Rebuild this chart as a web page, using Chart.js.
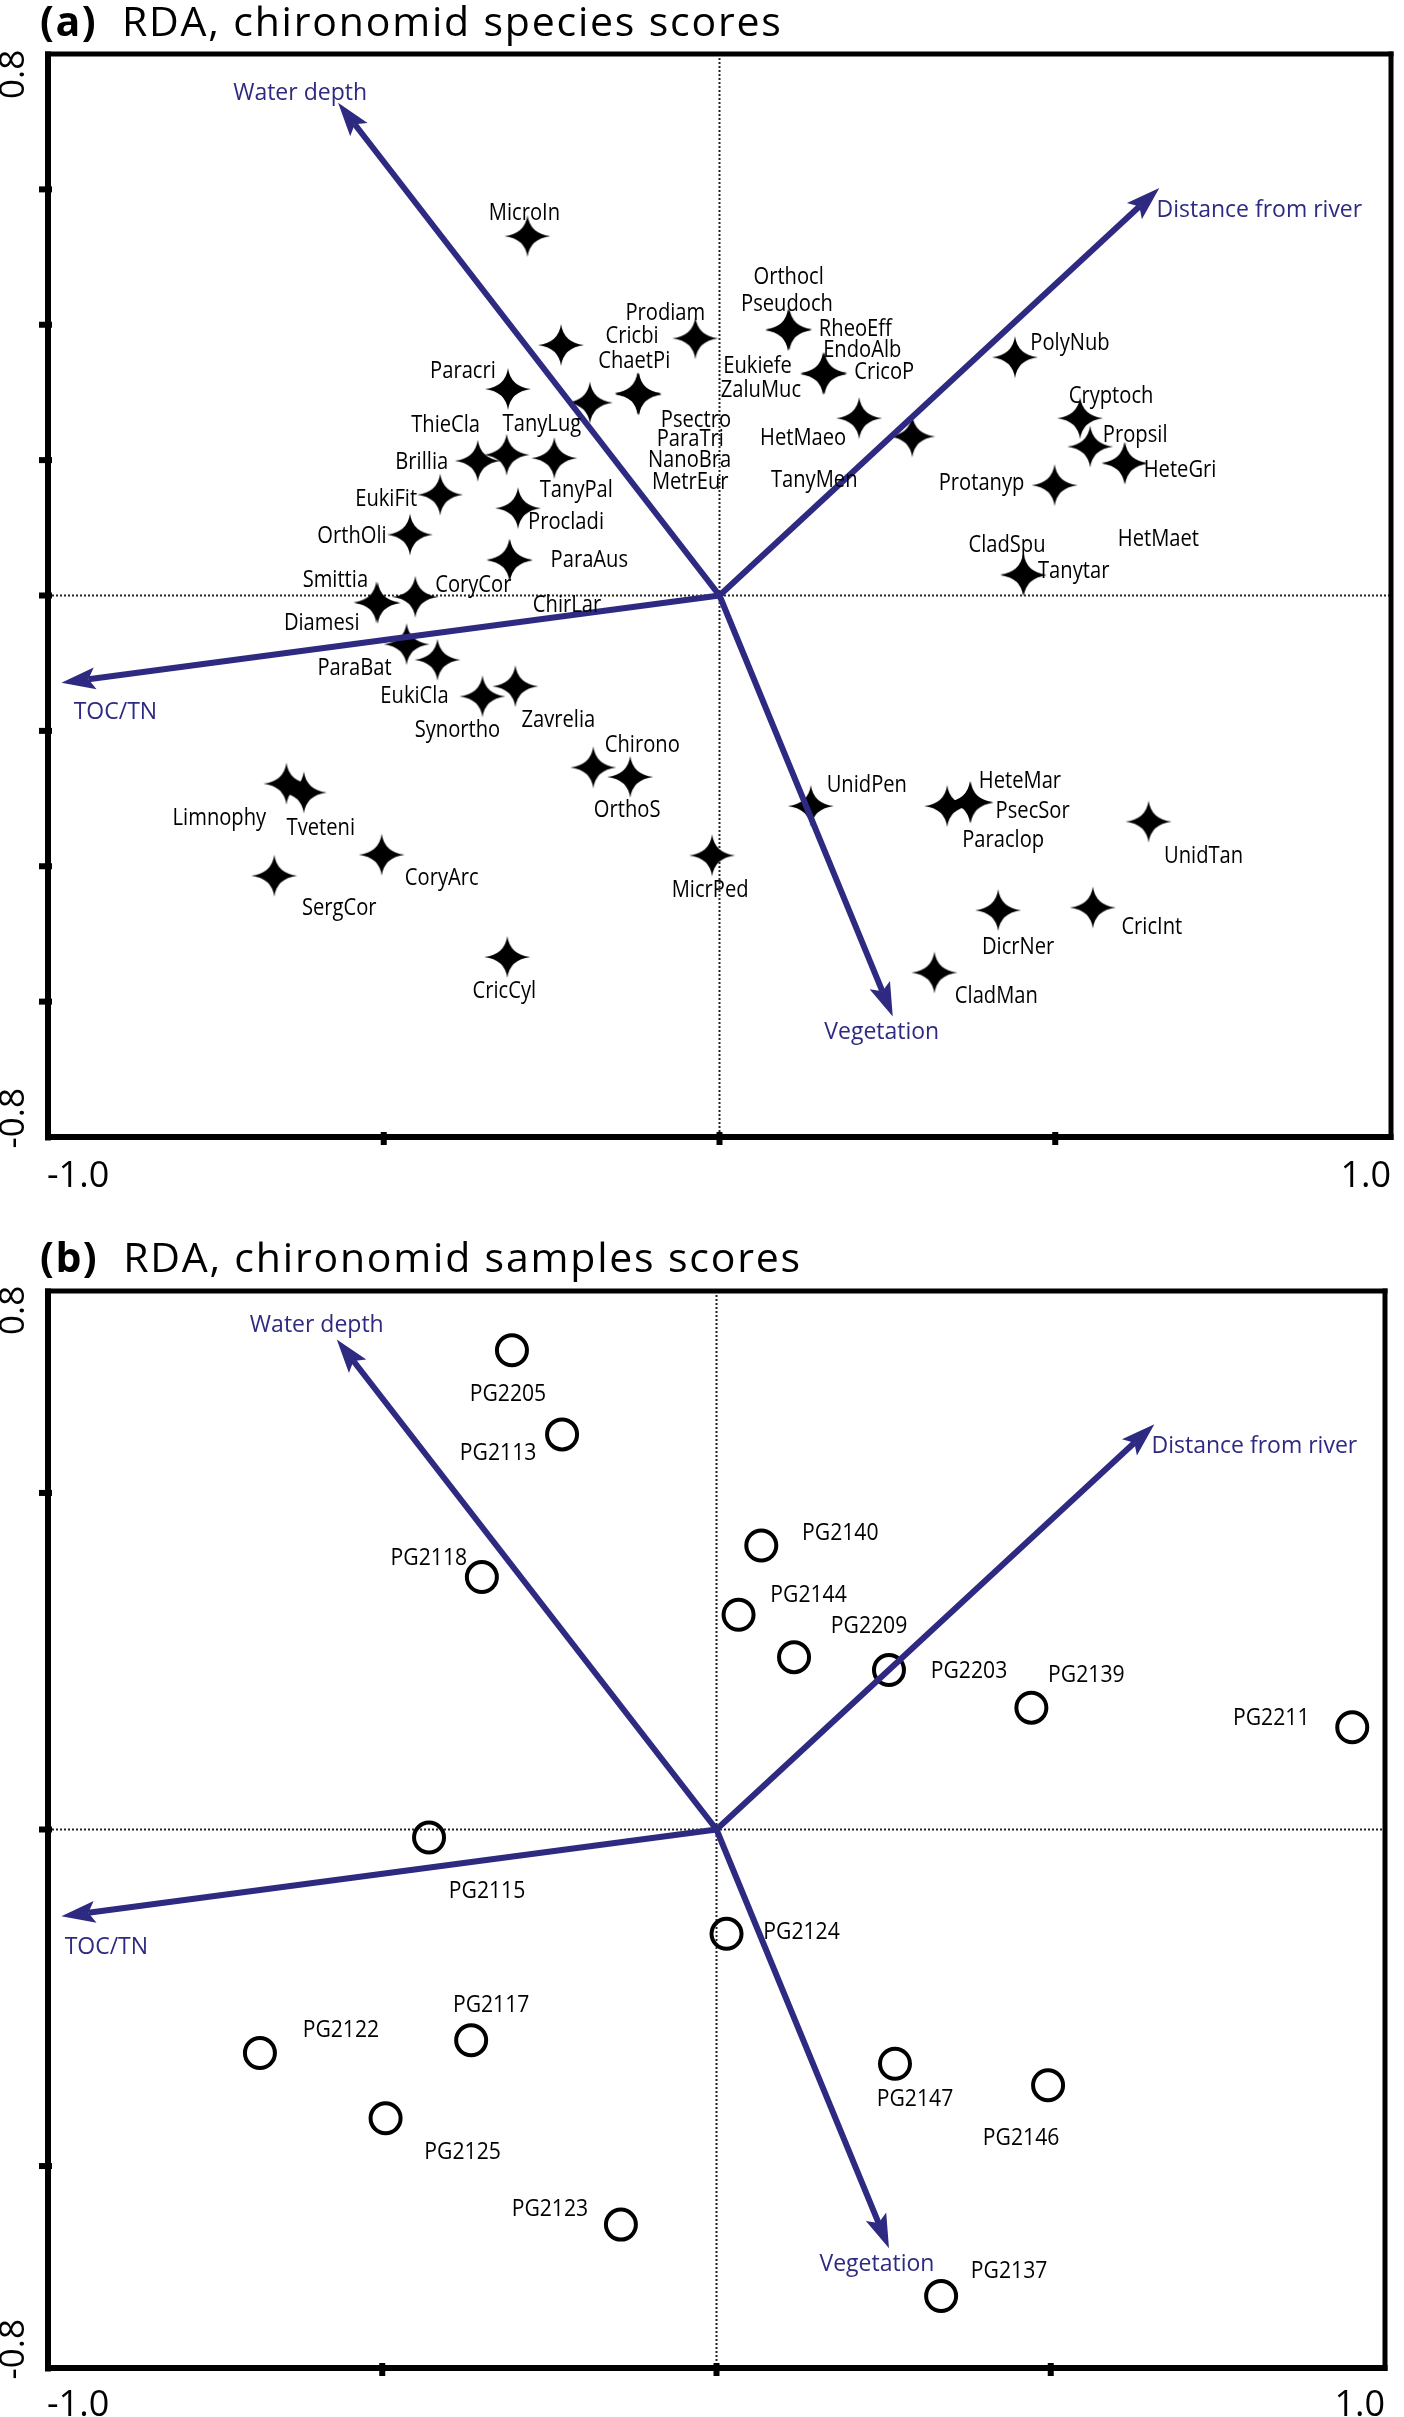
<!DOCTYPE html>
<html>
<head>
<meta charset="utf-8">
<title>RDA, chironomid species and samples scores</title>
<script src="https://cdn.jsdelivr.net/npm/chart.js@4.4.1/dist/chart.umd.min.js"></script>
<style>
  html, body { margin:0; padding:0; background:#fff; overflow:hidden; }
  #page { position:relative; width:1404px; height:2417px; overflow:hidden; background:#fff; }
  .panel { position:absolute; left:0; width:1404px; }
  .panel canvas { display:block; }
  .title { position:absolute; left:40px; font-family:'Open Sans', sans-serif; font-size:41px; line-height:41px; letter-spacing:1.8px; color:#000; white-space:pre; z-index:2; }
  .title b { font-weight:700; letter-spacing:1.5px; }
</style>
</head>
<body>
<div id="page">
  <div class="panel" style="top:0;height:1200px;"><canvas id="chartA" width="1404" height="1200" style="width:1404px;height:1200px;"></canvas></div>
  <div class="panel" style="top:1200px;height:1217px;"><canvas id="chartB" width="1404" height="1217" style="width:1404px;height:1217px;"></canvas></div>
  <div class="title" style="top:0px;"><b>(a)</b>  RDA, chironomid species scores</div>
  <div class="title" style="top:1236px;"><b>(b)</b>  RDA, chironomid samples scores</div>
</div>
<script>
// ---------------- data ----------------
const speciesNames = ['MicroIn','Cricbi','Prodiam','Paracri','ChaetPi','TanyLug','Brillia','ThieCla','TanyPal','EukiFit',
  'Procladi','OrthOli','ParaAus','ChirLar','CoryCor','Smittia','Diamesi','ParaBat','EukiCla','Synortho',
  'Zavrelia','Chirono','OrthoS','Limnophy','Tveteni','CoryArc','SergCor','CricCyl','MicrPed','Orthocl',
  'Pseudoch','RheoEff','EndoAlb','Eukiefe','ZaluMuc','CricoP','HetMaeo','TanyMen','Psectro','ParaTri',
  'NanoBra','MetrEur','PolyNub','Cryptoch','Propsil','HeteGri','HetMaet','Protanyp','CladSpu','Tanytar',
  'UnidPen','HeteMar','PsecSor','Paraclop','UnidTan','DicrNer','CricInt','CladMan'];
const speciesX = [-0.286,-0.236,-0.036,-0.315,-0.121,-0.193,-0.360,-0.317,-0.246,-0.416,
  -0.300,-0.461,-0.313,-0.312,-0.453,-0.511,-0.509,-0.466,-0.420,-0.353,
  -0.304,-0.188,-0.133,-0.645,-0.619,-0.503,-0.663,-0.316,-0.011,0.103,
  0.102,0.104,0.156,0.155,0.154,0.156,0.208,0.287,-0.120,-0.121,
  -0.122,-0.121,0.440,0.537,0.552,0.604,0.603,0.499,0.452,0.453,
  0.136,0.373,0.374,0.339,0.639,0.415,0.556,0.320];
const speciesY = [0.531,0.370,0.380,0.305,0.298,0.285,0.199,0.208,0.203,0.149,
  0.129,0.090,0.053,0.052,-0.002,-0.010,-0.011,-0.072,-0.095,-0.149,
  -0.134,-0.254,-0.268,-0.278,-0.291,-0.383,-0.414,-0.534,-0.384,0.393,
  0.392,0.393,0.328,0.327,0.328,0.329,0.262,0.235,0.297,0.298,
  0.299,0.298,0.352,0.262,0.220,0.195,0.196,0.163,0.031,0.030,
  -0.311,-0.305,-0.306,-0.311,-0.334,-0.465,-0.461,-0.557];

const sampleNames = ['PG2205','PG2113','PG2118','PG2140','PG2144','PG2209','PG2203','PG2139','PG2211',
  'PG2115','PG2117','PG2122','PG2125','PG2123','PG2124','PG2147','PG2146','PG2137'];
const sampleX = [-0.306,-0.231,-0.351,0.067,0.033,0.116,0.258,0.471,0.951,
  -0.430,-0.367,-0.683,-0.495,-0.143,0.015,0.267,0.496,0.336];
const sampleY = [0.712,0.587,0.375,0.422,0.319,0.256,0.237,0.181,0.152,
  -0.012,-0.313,-0.332,-0.429,-0.587,-0.155,-0.348,-0.380,-0.693];

const envNames = ['Water depth','Distance from river','TOC/TN','Vegetation'];
const envX = [-0.568, 0.655, -0.980, 0.258];
const envY = [0.728, 0.602, -0.129, -0.622];

const xTickLabels = ['-1.0', '1.0'];
const yTickLabels = ['0.8', '-0.8'];
const xTicks = [-0.5, 0, 0.5];
const yTicksA = [-0.6, -0.4, -0.2, 0, 0.2, 0.4, 0.6];
const yTicksB = [-0.5, 0, 0.5];

// ---------------- label layout (pixel offsets of label centre from its mark) ----------------
const speciesLabelDX = [-3,71,-30,-45,-4,-48,-56,-61,22,-54, 48,-58,80,57,58,-41,-56,-52,-23,-25,
  43,49,-3,-67,17,60,65,-3,-2,0, -1,66,38,-66,-62,60,-56,-98,57,52, 52,52,55,31,45,55,34,-73,-16,50,
  56,50,62,56,55,20,59,62];
const speciesLabelDY = [-24,-10,-27,-19,-34,20,0,-31,31,3, 12,0,-1,43,-13,-24,19,22,35,32,
  32,-24,32,33,34,22,31,33,33,-54, -28,-2,-25,-10,15,-2,18,42,24,44, 65,87,-16,-24,-13,5,75,-4,-31,-6,
  -22,-22,7,33,33,35,18,22];
const sampleLabelDX = [-4,-64,-53,79,70,75,80,55,-81, 58,20,81,77,-71,75,20,-27,68];
const sampleLabelDY = [43,18,-20,-13,-21,-32,0,-34,-10, 52,-36,-24,33,-17,-3,34,52,-26];
const envLabelDXa = [-38, 100, 54, -11], envLabelDYa = [-11, 21, 28, 14];
const envLabelDXb = [-20, 100, 45, -12], envLabelDYb = [-16, 21, 30, 15];

// ---------------- helpers ----------------
const FONT = "'Open Sans', 'DejaVu Sans', sans-serif";
const ARROW = '#2e2a82';

function makeStar(rx, ry, k) {
  const w = Math.ceil(2 * rx + 4), h = Math.ceil(2 * ry + 4);
  const cx = w / 2, cy = h / 2;
  const cv = document.createElement('canvas');
  cv.width = w; cv.height = h;
  const g = cv.getContext('2d');
  g.fillStyle = '#000';
  g.beginPath();
  g.moveTo(cx, cy - ry);
  g.quadraticCurveTo(cx + k, cy - k, cx + rx, cy);
  g.quadraticCurveTo(cx + k, cy + k, cx, cy + ry);
  g.quadraticCurveTo(cx - k, cy + k, cx - rx, cy);
  g.quadraticCurveTo(cx - k, cy - k, cx, cy - ry);
  g.closePath();
  g.fill();
  return cv;
}

function drawText(ctx, s, x, y, o) {
  ctx.save();
  ctx.font = (o.weight || 'normal') + ' ' + o.size + 'px ' + FONT;
  ctx.fillStyle = o.color || '#000';
  ctx.textBaseline = 'alphabetic';
  ctx.textAlign = 'left';
  const sx = o.sx || 1;
  const w = ctx.measureText(s).width * sx;
  let left = x;
  if (o.align === 'center') left = x - w / 2;
  else if (o.align === 'right') left = x - w;
  const base = o.vcenter ? y + o.size * 0.35 : y;
  ctx.translate(left, base);
  ctx.scale(sx, 1);
  ctx.fillText(s, 0, 0);
  ctx.restore();
}

function drawRot(ctx, s, x, y, size) {
  ctx.save();
  ctx.font = size + 'px ' + FONT;
  ctx.fillStyle = '#000';
  ctx.textBaseline = 'alphabetic';
  ctx.textAlign = 'left';
  ctx.translate(x, y);
  ctx.rotate(-Math.PI / 2);
  ctx.fillText(s, 0, 0);
  ctx.restore();
}

const rdaPlugin = {
  id: 'rda',
  beforeDatasetsDraw(chart, args, o) {
    const { ctx, chartArea: a, scales: { x, y } } = chart;
    const x0 = x.getPixelForValue(0), y0 = y.getPixelForValue(0);
    ctx.save();
    ctx.strokeStyle = '#222';
    ctx.lineWidth = 2;
    ctx.setLineDash([2, 2]);
    ctx.beginPath();
    ctx.moveTo(x0, a.top); ctx.lineTo(x0, a.bottom);
    ctx.moveTo(a.left, y0); ctx.lineTo(a.right, y0);
    ctx.stroke();
    ctx.restore();
  },
  afterDatasetsDraw(chart, args, o) {
    const { ctx, chartArea: a, scales: { x, y } } = chart;
    const x0 = x.getPixelForValue(0), y0 = y.getPixelForValue(0);
    // environmental arrows
    ctx.save();
    ctx.strokeStyle = ARROW; ctx.fillStyle = ARROW; ctx.lineWidth = 6; ctx.lineCap = 'butt';
    const HL = 34, HW = 11;
    for (let i = 0; i < envNames.length; i++) {
      const tx = x.getPixelForValue(envX[i]), ty = y.getPixelForValue(envY[i]);
      const L = Math.hypot(tx - x0, ty - y0);
      const ux = (tx - x0) / L, uy = (ty - y0) / L;
      const bx = tx - ux * HL, by = ty - uy * HL;
      const nx = tx - ux * HL * 0.8, ny = ty - uy * HL * 0.8;
      ctx.beginPath();
      ctx.moveTo(x0, y0); ctx.lineTo(nx, ny);
      ctx.stroke();
      ctx.beginPath();
      ctx.moveTo(tx, ty);
      ctx.lineTo(bx - uy * HW, by + ux * HW);
      ctx.lineTo(nx, ny);
      ctx.lineTo(bx + uy * HW, by - ux * HW);
      ctx.closePath();
      ctx.fill();
      drawText(ctx, envNames[i], tx + o.envDX[i], ty + o.envDY[i],
        { size: 23, color: ARROW, align: 'center', vcenter: true });
    }
    ctx.restore();
    // point labels
    const meta = chart.getDatasetMeta(0);
    meta.data.forEach((pt, i) => {
      drawText(ctx, o.names[i], pt.x + o.dx[i], pt.y + o.dy[i],
        { size: o.labelSize, sx: o.labelSx, align: 'center', vcenter: true });
    });
  },
  afterDraw(chart, args, o) {
    const { ctx, chartArea: a, scales: { x, y } } = chart;
    ctx.save();
    ctx.fillStyle = '#000';
    const W = a.right - a.left, H = a.bottom - a.top;
    ctx.fillRect(a.left - 3, a.top - 2.5, W + 5.5, 5);      // top
    ctx.fillRect(a.right - 2.5, a.top - 2.5, 5, H + 5.5);   // right
    ctx.fillRect(a.left - 3, a.top - 2.5, 6, H + 6);        // left
    ctx.fillRect(a.left - 3, a.bottom - 3, W + 5.5, 6);     // bottom
    o.yTicks.forEach(v => { const p = y.getPixelForValue(v); ctx.fillRect(a.left - 9, p - 3, 13, 6); });
    xTicks.forEach(v => { const p = x.getPixelForValue(v); ctx.fillRect(p - 3, a.bottom - 5, 6, 13); });
    ctx.restore();
    drawText(ctx, xTickLabels[0], a.left - 1, a.bottom + o.xLabGap, { size: 36 });
    drawText(ctx, xTickLabels[1], a.right, a.bottom + o.xLabGap, { size: 36, align: 'right' });
    drawRot(ctx, yTickLabels[0], 24, a.top + o.yTopGap, 35);
    drawRot(ctx, yTickLabels[1], 24, a.bottom + 11.5, 35);
  }
};

const star = makeStar(23, 21, 2.5);

function scaleOpts(min, max) {
  return { type: 'linear', min: min, max: max, display: false };
}

function makeChart(id, pad, names, xs, ys, pointOpts, plug) {
  return new Chart(document.getElementById(id), {
    type: 'scatter',
    data: {
      datasets: [Object.assign({
        label: id,
        data: xs.map((v, i) => ({ x: v, y: ys[i] })),
        clip: false
      }, pointOpts)]
    },
    options: {
      responsive: false,
      maintainAspectRatio: false,
      devicePixelRatio: 1,
      animation: false,
      events: [],
      layout: { padding: pad },
      scales: { x: scaleOpts(-1, 1), y: scaleOpts(-0.8, 0.8) },
      plugins: { legend: { display: false }, tooltip: { enabled: false }, rda: plug }
    },
    plugins: [rdaPlugin]
  });
}

makeChart('chartA', { left: 48, right: 7, top: 54, bottom: 63 },
  speciesNames, speciesX, speciesY,
  { pointStyle: star, pointRadius: 12, pointBackgroundColor: '#000', pointBorderColor: '#000' },
  { names: speciesNames, dx: speciesLabelDX, dy: speciesLabelDY, labelSize: 24, labelSx: 0.84,
    envDX: envLabelDXa, envDY: envLabelDYa, yTicks: yTicksA, xLabGap: 50, yTopGap: 45 });

makeChart('chartB', { left: 48, right: 9, top: 91, bottom: 49 },
  sampleNames, sampleX, sampleY,
  { pointStyle: 'circle', pointRadius: 15, pointBorderWidth: 4, pointBorderColor: '#000', pointBackgroundColor: 'rgba(255,255,255,0)' },
  { names: sampleNames, dx: sampleLabelDX, dy: sampleLabelDY, labelSize: 23, labelSx: 0.92,
    envDX: envLabelDXb, envDY: envLabelDYb, yTicks: yTicksB, xLabGap: 48, yTopGap: 44 });
</script>
</body>
</html>
